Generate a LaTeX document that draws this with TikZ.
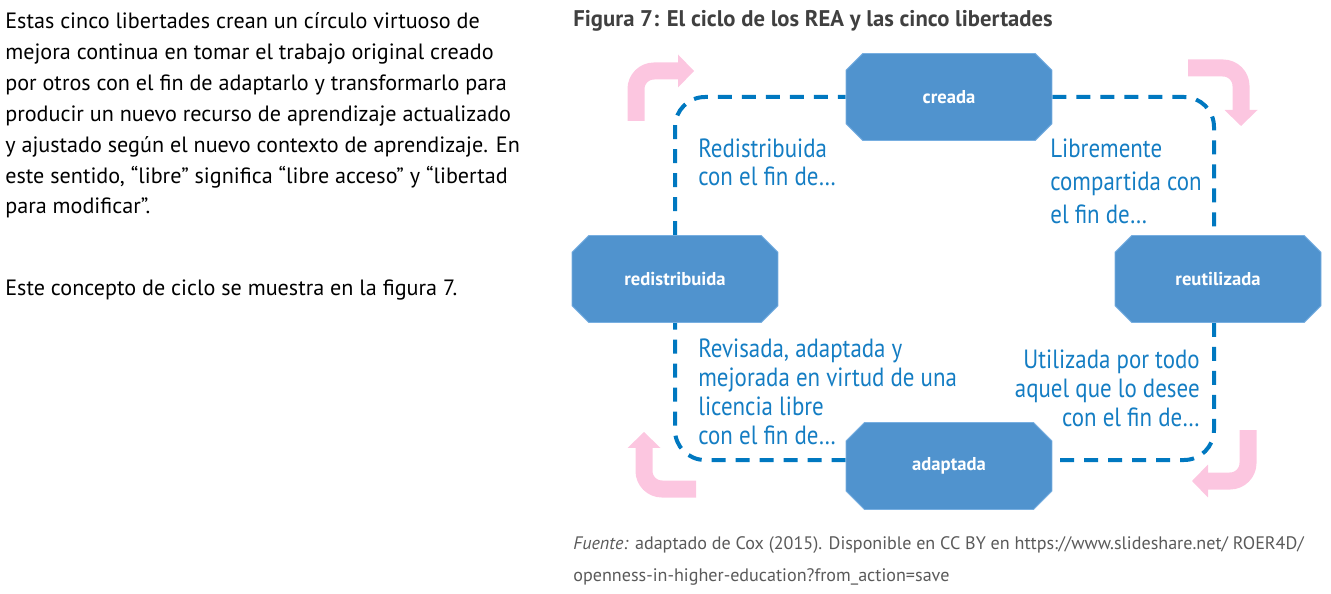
\documentclass[tikz,border=0pt]{standalone}
\usepackage{fontspec}
\setmainfont{PT Sans}
\newfontfamily\condfont[FakeStretch=0.87]{PT Sans}
\usetikzlibrary{shapes.misc,arrows.meta,backgrounds}
\definecolor{reablue}{RGB}{80,147,206}
\definecolor{reaborder}{RGB}{120,175,225}
\definecolor{cycleblue}{RGB}{0,120,192}
\definecolor{labelblue}{RGB}{20,125,195}
\definecolor{reapink}{RGB}{252,198,224}
\definecolor{titlegray}{RGB}{64,64,64}
\definecolor{notegray}{RGB}{90,90,90}
\tikzset{
  freedom/.style={chamfered rectangle, chamfered rectangle xsep=0.2cm,
    chamfered rectangle ysep=0.2cm, fill=reablue, draw=reaborder, line width=0.5pt,
    minimum width=4.12cm, minimum height=1.74cm, inner sep=0pt,
    text=white, font=\fontsize{10.6}{12}\selectfont\bfseries},
  cycleline/.style={cycleblue, line width=0.08cm, dash pattern=on 0.28cm off 0.2cm,
    rounded corners=0.6cm},
  turnarrow/.style={reapink, line width=0.34cm, rounded corners=0.36cm,
    -{Triangle[width=0.66cm,length=0.32cm,line width=0pt]}},
  steplabel/.style={inner sep=0pt, text=labelblue,
    font=\condfont\fontsize{15}{16.4}\selectfont},
}
\begin{document}
\begin{tikzpicture}[x=0.02cm,y=-0.02cm]
\useasboundingbox (0,0) rectangle (1331,594);
\node[anchor=base west, inner sep=0pt, align=left,
  font=\fontsize{12.6}{17.6}\selectfont] (intro) at (5,214)
  {Estas cinco libertades crean un círculo virtuoso de\\
   mejora continua en tomar el trabajo original creado\\
   por otros con el fin de adaptarlo y transformarlo para\\
   producir un nuevo recurso de aprendizaje actualizado\\
   y ajustado según el nuevo contexto de aprendizaje. En\\
   este sentido, “libre” significa “libre acceso” y “libertad\\
   para modificar”.};
\node[anchor=base west, inner sep=0pt, font=\fontsize{12.6}{17.6}\selectfont]
  (ciclo) at (5,296) {Este concepto de ciclo se muestra en la figura 7.};
\node[anchor=base west, inner sep=0pt, text=titlegray,
  font=\fontsize{12.9}{14}\selectfont\bfseries] (title) at (573,27)
  {Figura 7: El ciclo de los REA y las cinco libertades};

\node[freedom] (creada) at (949,97) {creada};
\node[freedom] (redistribuida) at (675,279) {redistribuida};
\node[freedom] (reutilizada) at (1218,279) {reutilizada};
\node[freedom] (adaptada) at (949,466) {adaptada};

\begin{scope}[on background layer]
\draw[cycleline] (creada.east) -| ([xshift=-0.08cm]reutilizada.north);
\draw[cycleline] ([xshift=-0.08cm]reutilizada.south) |- ([yshift=0.12cm]adaptada.east);
\draw[cycleline] ([yshift=0.12cm]adaptada.west) -| (redistribuida.south);
\draw[cycleline] (redistribuida.north) |- (creada.west);
\end{scope}

\coordinate (tlfrom) at (636,121);
\coordinate (tlto) at (694,71);
\coordinate (trfrom) at (1188,68);
\coordinate (trto) at (1241,126);
\coordinate (brfrom) at (1248,430);
\coordinate (brto) at (1192,481);
\coordinate (blfrom) at (696,489);
\coordinate (blto) at (644,432);
\draw[turnarrow] (tlfrom) |- (tlto);
\draw[turnarrow] (trfrom) -| (trto);
\draw[turnarrow] (brfrom) |- (brto);
\draw[turnarrow] (blfrom) -| (blto);

\node[steplabel, anchor=base west, align=left] (lbredis) at (698,186)
  {Redistribuida\\con el fin de…};
\node[steplabel, anchor=base west, align=left,
  font=\condfont\fontsize{15}{19}\selectfont] (lblibre) at (1050,224)
  {Libremente\\compartida con\\el fin de…};
\node[steplabel, anchor=base west, align=left] (lbrevis) at (698,444)
  {Revisada, adaptada y\\mejorada en virtud de una\\licencia libre\\con el fin de…};
\node[steplabel, anchor=base east, align=right] (lbutil) at (1200,426)
  {Utilizada por todo\\aquel que lo desee\\con el fin de…};

\node[anchor=base west, inner sep=0pt, align=left, text=notegray,
  font=\fontsize{10.3}{18}\selectfont] (fuente) at (573,581)
  {\textit{Fuente:} adaptado de Cox (2015). Disponible en CC BY en https://www.slideshare.net/ ROER4D/\\
   openness-in-higher-education?from\_action=save};
\end{tikzpicture}
\end{document}
